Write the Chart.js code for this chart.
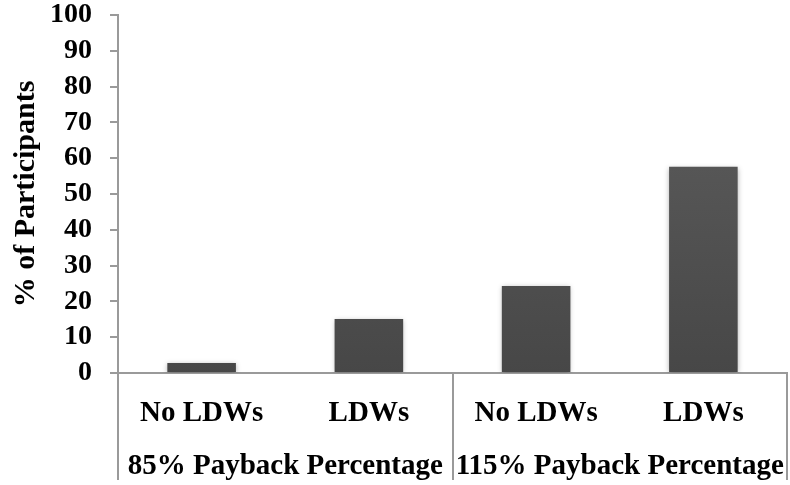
<!DOCTYPE html>
<html>
<head>
<meta charset="utf-8">
<script src="https://cdn.jsdelivr.net/npm/chart.js@4/dist/chart.umd.min.js"></script>
<style>
  html, body { margin: 0; padding: 0; background: #ffffff; }
  #wrap { width: 790px; height: 485px; }
</style>
</head>
<body>
<div id="wrap"><canvas id="chart" width="790" height="485"></canvas></div>
<script>
// Share of participants by condition
const categories = ['No LDWs', 'LDWs', 'No LDWs', 'LDWs'];
const groups = ['85% Payback Percentage', '115% Payback Percentage'];
const participantPct = [2.8, 15.1, 24.3, 57.6];
const yMin = 0;
const yMax = 100;
const yStep = 10;

const FAMILY = '"Liberation Serif", "Times New Roman", serif';
const TICK_FONT = { family: FAMILY, weight: 'bold', size: 28 };
const CAT_FONT = { family: FAMILY, weight: 'bold', size: 29 };
const GROUP_FONT = { family: FAMILY, weight: 'bold', size: 29 };
const AXIS_GREY = '#9a9a9a';

// Separator lines below the axis: outer edges and the boundary between the two groups
const groupDividers = {
  id: 'groupDividers',
  afterDraw(chart) {
    const x = chart.scales.x;
    const ctx = chart.ctx;
    const top = x.top;
    const bottom = chart.scales.x2.bottom - 5;
    const perGroup = categories.length / groups.length;
    ctx.save();
    ctx.strokeStyle = AXIS_GREY;
    ctx.lineWidth = 2;
    for (let g = 0; g <= groups.length; g++) {
      const px = Math.round(x.getPixelForValue(g * perGroup - 0.5));
      ctx.beginPath();
      ctx.moveTo(px, top);
      ctx.lineTo(px, bottom);
      ctx.stroke();
    }
    ctx.restore();
  }
};

// Soft drop shadow around the bars
const barShadow = {
  id: 'barShadow',
  beforeDatasetDraw(chart) {
    const ctx = chart.ctx;
    ctx.save();
    ctx.shadowColor = 'rgba(0,0,0,0.3)';
    ctx.shadowBlur = 5;
    ctx.shadowOffsetX = 0;
    ctx.shadowOffsetY = 1;
  },
  afterDatasetDraw(chart) {
    chart.ctx.restore();
  }
};

function barGradient(context) {
  const area = context.chart.chartArea;
  if (!area) return '#545454';
  const g = context.chart.ctx.createLinearGradient(0, area.top, 0, area.bottom);
  g.addColorStop(0, '#616161');
  g.addColorStop(1, '#474747');
  return g;
}

// Keep the horizontal label rows from widening the plot margins
function noSidePadding(scale) {
  scale.paddingLeft = 0;
  scale.paddingRight = 0;
}

new Chart(document.getElementById('chart'), {
  type: 'bar',
  data: {
    labels: categories,
    datasets: [{
      data: participantPct,
      backgroundColor: barGradient,
      borderWidth: 0,
      categoryPercentage: 1.0,
      barPercentage: 0.41,
      xAxisID: 'x',
      yAxisID: 'y'
    }]
  },
  plugins: [barShadow, groupDividers],
  options: {
    responsive: false,
    animation: false,
    events: [],
    layout: { padding: { top: 0, right: 3, bottom: 0, left: 0 } },
    plugins: {
      legend: { display: false },
      tooltip: { enabled: false }
    },
    scales: {
      y: {
        min: yMin,
        max: yMax,
        ticks: {
          stepSize: yStep,
          autoSkip: false,
          color: '#000000',
          font: TICK_FONT,
          padding: 18
        },
        grid: {
          display: true,
          drawOnChartArea: false,
          drawTicks: true,
          tickLength: 8,
          color: AXIS_GREY,
          lineWidth: 2
        },
        border: { display: true, color: AXIS_GREY, width: 2 },
        title: {
          display: true,
          text: '% of Participants',
          color: '#000000',
          font: { family: FAMILY, weight: 'bold', size: 30 },
          padding: { top: 8, bottom: 0 }
        },
        afterFit(scale) {
          scale.width = 118;
          scale.paddingTop = 15;
          scale.paddingBottom = 0;
        }
      },
      x: {
        type: 'category',
        position: 'bottom',
        offset: true,
        grid: { display: false },
        border: { display: true, color: AXIS_GREY, width: 2 },
        ticks: {
          color: '#000000',
          font: CAT_FONT,
          padding: 15,
          maxRotation: 0,
          autoSkip: false
        },
        afterFit(scale) {
          scale.height = 64;
          noSidePadding(scale);
        }
      },
      x2: {
        type: 'category',
        position: 'bottom',
        labels: groups,
        offset: true,
        grid: { display: false },
        border: { display: false },
        ticks: {
          color: '#000000',
          font: GROUP_FONT,
          padding: 4,
          maxRotation: 0,
          autoSkip: false
        },
        afterFit(scale) {
          scale.height = 48;
          noSidePadding(scale);
        }
      }
    }
  }
});
</script>
</body>
</html>
